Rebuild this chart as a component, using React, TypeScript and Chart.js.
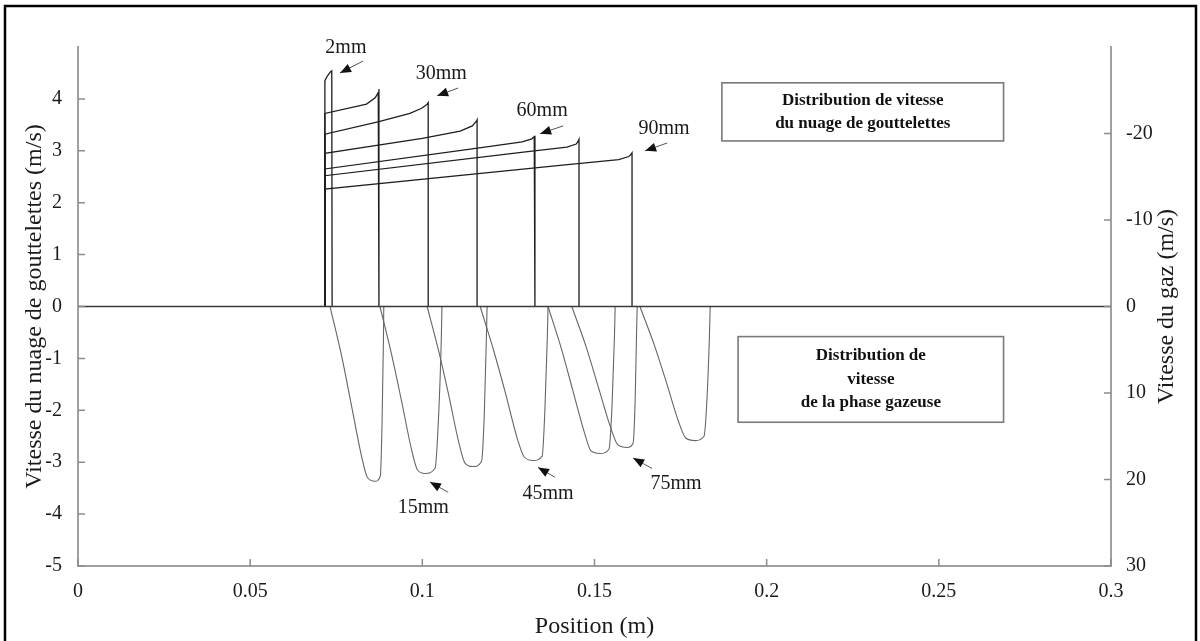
import React, { useEffect, useRef } from "react";
import { Chart, registerables } from "chart.js";
Chart.register(...registerables);

// ---------- axes ----------
const xTickValues = [0, 0.05, 0.1, 0.15, 0.2, 0.25, 0.3];
const leftTickValues = [-5, -4, -3, -2, -1, 0, 1, 2, 3, 4];
const rightTickValues = [-20, -10, 0, 10, 20, 30];

const xTitle = "Position (m)";
const leftTitle = "Vitesse du nuage de gouttelettes (m/s)";
const rightTitle = "Vitesse du gaz (m/s)";

// ---------- droplet cloud velocity (left axis, m/s) : [position, velocity] ----------
const zeroLine = [[0, 0], [0.3, 0]];
const drop2mm = [[0.0717, 0], [0.0717, 4.35], [0.0724, 4.44], [0.0733, 4.52], [0.0737, 4.54], [0.0738, 0]];
const drop15mm = [[0.0717, 0], [0.0717, 3.72], [0.0838, 3.9], [0.0863, 4.02], [0.0872, 4.12], [0.0874, 4.19], [0.0874, 0]];
const drop30mm = [[0.0717, 0], [0.0717, 3.32], [0.0874, 3.56], [0.0964, 3.72], [0.0998, 3.82], [0.1013, 3.89], [0.1017, 3.93], [0.1017, 0]];
const drop45mm = [[0.0717, 0], [0.0717, 2.95], [0.1, 3.24], [0.111, 3.38], [0.1145, 3.48], [0.1156, 3.56], [0.1159, 3.6], [0.1159, 0]];
const drop60mm = [[0.0717, 0], [0.0717, 2.65], [0.115, 3.04], [0.129, 3.17], [0.1318, 3.23], [0.1325, 3.27], [0.1327, 3.29], [0.1327, 0]];
const drop75mm = [[0.0717, 0], [0.0717, 2.52], [0.13, 2.98], [0.142, 3.07], [0.1447, 3.13], [0.1453, 3.19], [0.1455, 3.22], [0.1455, 0]];
const drop90mm = [[0.0717, 0], [0.0717, 2.26], [0.14, 2.72], [0.157, 2.83], [0.16, 2.89], [0.1607, 2.94], [0.1609, 2.96], [0.1609, 0]];

// ---------- gas phase velocity (right axis, m/s) : [position, velocity] ----------
const gas2mm = [[0.0732, 0], [0.0766, 5.8], [0.0795, 11.6], [0.0824, 17.4], [0.0841, 19.8], [0.0863, 20.2], [0.0878, 19.6], [0.0883, 13.5], [0.0887, 4.0], [0.0888, 0]];
const gas15mm = [[0.0877, 0], [0.0911, 5.6], [0.094, 11.0], [0.0969, 16.6], [0.0986, 18.9], [0.1008, 19.3], [0.1037, 18.7], [0.1047, 12.9], [0.1055, 3.9], [0.1057, 0]];
const gas30mm = [[0.1014, 0], [0.1049, 5.4], [0.1078, 10.5], [0.1107, 15.9], [0.1124, 18.1], [0.1147, 18.5], [0.1172, 17.9], [0.118, 12.4], [0.1186, 3.7], [0.1188, 0]];
const gas45mm = [[0.1168, 0], [0.1208, 5.2], [0.1242, 10.1], [0.1276, 15.3], [0.1296, 17.4], [0.1322, 17.8], [0.1348, 17.3], [0.1356, 11.9], [0.1363, 3.6], [0.1365, 0]];
const gas60mm = [[0.1365, 0], [0.1404, 4.9], [0.1437, 9.7], [0.1471, 14.6], [0.149, 16.7], [0.1516, 17.0], [0.1542, 16.5], [0.1551, 11.4], [0.1558, 3.4], [0.156, 0]];
const gas75mm = [[0.1434, 0], [0.1476, 4.7], [0.1511, 9.3], [0.1547, 14.0], [0.1568, 16.0], [0.1595, 16.3], [0.1612, 15.8], [0.1618, 10.9], [0.1622, 3.3], [0.1624, 0]];
const gas90mm = [[0.1632, 0], [0.1674, 4.5], [0.1709, 8.8], [0.1744, 13.3], [0.1765, 15.2], [0.1792, 15.5], [0.1818, 15.0], [0.1827, 10.4], [0.1834, 3.1], [0.1836, 0]];

const dropSeries = [drop2mm, drop15mm, drop30mm, drop45mm, drop60mm, drop75mm, drop90mm];
const gasSeries = [gas2mm, gas15mm, gas30mm, gas45mm, gas60mm, gas75mm, gas90mm];

// ---------- annotations (text) ----------
const curveLabels = ["2mm", "30mm", "60mm", "90mm", "15mm", "45mm", "75mm"];
const boxTopLines = ["Distribution de vitesse", "du nuage de gouttelettes"];
const boxBottomLines = ["Distribution de", "vitesse", "de la phase gazeuse"];

// annotation placement in data units (x: position, y: left axis)
const labelAnchors = [
  [0.0778, 4.98], [0.1055, 4.48], [0.1348, 3.77], [0.1702, 3.42],
  [0.1003, -3.88], [0.1365, -3.6], [0.1737, -3.42],
];
const arrowAnchors = [
  [0.0828, 4.73, 0.0761, 4.5],
  [0.1104, 4.21, 0.1043, 4.06],
  [0.1409, 3.48, 0.1342, 3.33],
  [0.1711, 3.15, 0.1647, 3.0],
  [0.1075, -3.58, 0.1022, -3.38],
  [0.1385, -3.29, 0.1336, -3.1],
  [0.1667, -3.12, 0.1612, -2.92],
];
const boxTopArea = [0.187, 0.2688, 4.31, 3.19];
const boxBottomArea = [0.1917, 0.2688, -0.58, -2.23];

const SERIF = '"Liberation Serif", "Times New Roman", Times, serif';

const decorPlugin = {
  id: "decor",
  beforeDraw(chart: any) {
    const ctx = chart.ctx;
    ctx.save();
    ctx.fillStyle = "#ffffff";
    ctx.fillRect(0, 0, chart.width, chart.height);
    ctx.restore();
  },
  afterDraw(chart: any) {
    const ctx = chart.ctx;
    const sx = chart.scales.x;
    const sl = chart.scales.yL;
    const sr = chart.scales.yR;
    const area = chart.chartArea;
    const P = (x: number, y: number) => [sx.getPixelForValue(x), sl.getPixelForValue(y)];

    ctx.save();
    // outer frame
    ctx.strokeStyle = "#000";
    ctx.lineWidth = 2.5;
    ctx.strokeRect(5, 6, chart.width - 9, chart.height + 10);

    // inward tick marks
    ctx.strokeStyle = "#8c8c8c";
    ctx.lineWidth = 1.5;
    ctx.beginPath();
    xTickValues.forEach((v) => {
      const x = sx.getPixelForValue(v);
      ctx.moveTo(x, area.bottom);
      ctx.lineTo(x, area.bottom - 7);
    });
    leftTickValues.forEach((v) => {
      const y = sl.getPixelForValue(v);
      ctx.moveTo(area.left, y);
      ctx.lineTo(area.left + 7, y);
    });
    rightTickValues.forEach((v) => {
      const y = sr.getPixelForValue(v);
      ctx.moveTo(area.right, y);
      ctx.lineTo(area.right - 7, y);
    });
    ctx.stroke();

    // axis titles
    ctx.fillStyle = "#1a1a1a";
    ctx.font = `24px ${SERIF}`;
    ctx.textAlign = "center";
    ctx.textBaseline = "middle";
    ctx.fillText(xTitle, (area.left + area.right) / 2, 627);
    const midY = sl.getPixelForValue(0);
    ctx.save();
    ctx.translate(35, midY);
    ctx.rotate(-Math.PI / 2);
    ctx.fillText(leftTitle, 0, 0);
    ctx.restore();
    ctx.save();
    ctx.translate(1167, midY);
    ctx.rotate(-Math.PI / 2);
    ctx.fillText(rightTitle, 0, 0);
    ctx.restore();

    // curve labels and arrows
    ctx.font = `20px ${SERIF}`;
    curveLabels.forEach((t, i) => {
      const [x, y] = P(labelAnchors[i][0], labelAnchors[i][1]);
      ctx.fillStyle = "#1a1a1a";
      ctx.fillText(t, x, y);
      const [tx, ty] = P(arrowAnchors[i][0], arrowAnchors[i][1]);
      const [hx, hy] = P(arrowAnchors[i][2], arrowAnchors[i][3]);
      ctx.strokeStyle = "#555";
      ctx.lineWidth = 1;
      ctx.beginPath();
      ctx.moveTo(tx, ty);
      ctx.lineTo(hx, hy);
      ctx.stroke();
      const a = Math.atan2(hy - ty, hx - tx);
      ctx.fillStyle = "#111";
      ctx.beginPath();
      ctx.moveTo(hx, hy);
      ctx.lineTo(hx - 11 * Math.cos(a) + 4.5 * Math.sin(a), hy - 11 * Math.sin(a) - 4.5 * Math.cos(a));
      ctx.lineTo(hx - 11 * Math.cos(a) - 4.5 * Math.sin(a), hy - 11 * Math.sin(a) + 4.5 * Math.cos(a));
      ctx.closePath();
      ctx.fill();
    });

    // text boxes
    const drawBox = (b: number[], lines: string[]) => {
      const [x0, y0] = P(b[0], b[2]);
      const [x1, y1] = P(b[1], b[3]);
      ctx.strokeStyle = "#7a7a7a";
      ctx.lineWidth = 1.6;
      ctx.strokeRect(x0, y0, x1 - x0, y1 - y0);
      ctx.fillStyle = "#111";
      ctx.font = `bold 17px ${SERIF}`;
      const lh = 23.5;
      const cy = (y0 + y1) / 2;
      lines.forEach((l, i) => {
        ctx.fillText(l, (x0 + x1) / 2, cy + (i - (lines.length - 1) / 2) * lh);
      });
    };
    drawBox(boxTopArea, boxTopLines);
    drawBox(boxBottomArea, boxBottomLines);
    ctx.restore();
  },
};

export default function App() {
  const ref = useRef<HTMLCanvasElement>(null);
  useEffect(() => {
    document.body.style.margin = "0";
    const toXY = (arr: number[][]) => arr.map(([x, y]) => ({ x, y }));
    const datasets: any[] = [
      { data: toXY(zeroLine), yAxisID: "yL", borderColor: "#3a3a3a", borderWidth: 1.6 },
      ...dropSeries.map((s) => ({
        data: toXY(s),
        yAxisID: "yL",
        borderColor: "#1e1e1e",
        borderWidth: 1.3,
        tension: 0,
      })),
      ...gasSeries.map((s) => ({
        data: toXY(s),
        yAxisID: "yR",
        borderColor: "#666",
        borderWidth: 1.1,
        cubicInterpolationMode: "monotone",
      })),
    ];
    const tickFont = { family: SERIF, size: 20 };
    const fmt = (v: any) => String(Number(Number(v).toFixed(3)));
    const chart = new Chart(ref.current as HTMLCanvasElement, {
      type: "line",
      data: { datasets },
      options: {
        responsive: false,
        animation: false,
        devicePixelRatio: 1,
        layout: { padding: { top: 47, left: 0, right: 0, bottom: 0 } },
        elements: { point: { radius: 0 }, line: { fill: false } },
        plugins: { legend: { display: false }, tooltip: { enabled: false } },
        scales: {
          x: {
            type: "linear",
            min: 0,
            max: 0.3,
            grid: { display: false },
            border: { display: true, color: "#a0a0a0", width: 2 },
            afterBuildTicks: (s: any) => {
              s.ticks = xTickValues.map((value) => ({ value }));
            },
            afterFit: (s: any) => {
              s.height = 75;
            },
            ticks: { font: tickFont, color: "#1a1a1a", padding: 6, maxRotation: 0, callback: fmt },
          },
          yL: {
            type: "linear",
            position: "left",
            min: -5,
            max: 5,
            grid: { display: false },
            border: { display: true, color: "#a0a0a0", width: 2 },
            afterBuildTicks: (s: any) => {
              s.ticks = leftTickValues.map((value) => ({ value }));
            },
            afterFit: (s: any) => {
              s.width = 78;
            },
            ticks: { font: tickFont, color: "#1a1a1a", padding: 8, callback: fmt },
          },
          yR: {
            type: "linear",
            position: "right",
            min: -30,
            max: 30,
            reverse: true,
            grid: { display: false },
            border: { display: true, color: "#a0a0a0", width: 2 },
            afterBuildTicks: (s: any) => {
              s.ticks = rightTickValues.map((value) => ({ value }));
            },
            afterFit: (s: any) => {
              s.width = 89;
            },
            ticks: { font: tickFont, color: "#1a1a1a", padding: 7, callback: fmt },
          },
        },
      } as any,
      plugins: [decorPlugin],
    });
    return () => chart.destroy();
  }, []);
  return <canvas ref={ref} width={1200} height={641} style={{ display: "block" }} />;
}
